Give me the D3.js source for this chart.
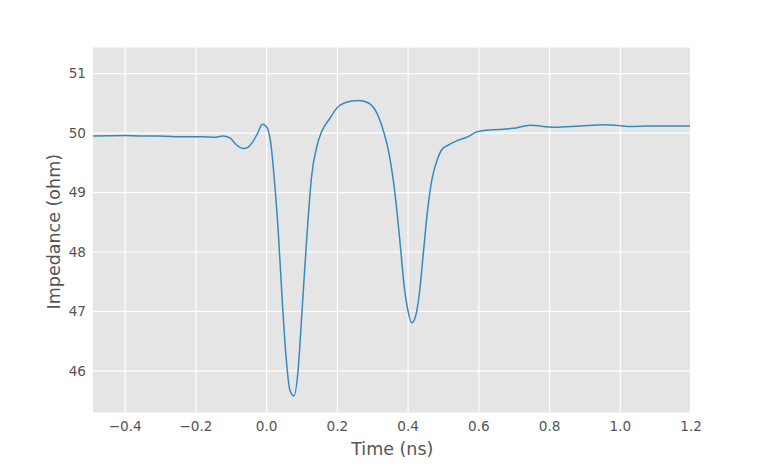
<!DOCTYPE html>
<html>
<head>
<meta charset="utf-8">
<script src="https://cdn.jsdelivr.net/npm/d3@7"></script>
<style>
  html, body { margin: 0; padding: 0; background: #fff; }
  svg { display: block; }
  text { font-family: "DejaVu Sans", sans-serif; }
</style>
</head>
<body>
<svg id="chart" width="768" height="470"></svg>
<script>
const time = [-0.491, -0.40, -0.35, -0.31, -0.26, -0.22, -0.18, -0.15, -0.123, -0.104, -0.085, -0.066, -0.053, -0.042, -0.027, -0.012, -0.002,
  0.011, 0.021, 0.033, 0.044, 0.054, 0.066, 0.077, 0.089, 0.099, 0.113, 0.127, 0.143, 0.156, 0.179, 0.198, 0.221, 0.259, 0.287,
  0.316, 0.332, 0.346, 0.358, 0.368, 0.379, 0.388, 0.399, 0.410, 0.421, 0.432, 0.443, 0.454, 0.467, 0.479, 0.495, 0.514, 0.537,
  0.566, 0.594, 0.622, 0.655, 0.697, 0.745, 0.811, 0.886, 0.952, 0.990, 1.032, 1.075, 1.197];
const impedance = [49.95, 49.96, 49.95, 49.95, 49.94, 49.94, 49.94, 49.93, 49.95, 49.92, 49.80, 49.74, 49.76, 49.83, 49.98, 50.15, 50.12,
  49.86, 49.27, 48.32, 47.19, 46.30, 45.67, 45.58, 46.02, 46.91, 48.20, 49.27, 49.80, 50.03, 50.25, 50.42, 50.51, 50.55, 50.51,
  50.28, 50.00, 49.66, 49.21, 48.71, 48.04, 47.47, 47.03, 46.81, 46.92, 47.31, 47.98, 48.65, 49.21, 49.49, 49.72, 49.80, 49.87,
  49.93, 50.02, 50.05, 50.06, 50.08, 50.13, 50.10, 50.12, 50.14, 50.13, 50.11, 50.12, 50.12];
const xTicks = [-0.4, -0.2, 0.0, 0.2, 0.4, 0.6, 0.8, 1.0, 1.2];
const yTicks = [46, 47, 48, 49, 50, 51];
const xLabel = "Time (ns)";
const yLabel = "Impedance (ohm)";

const svg = d3.select("#chart");
const m = { left: 93, right: 690, top: 47.5, bottom: 412.5 };
const x = d3.scaleLinear().domain([-0.491, 1.197]).range([m.left, m.right]);
const y = d3.scaleLinear().domain([45.30, 51.44]).range([m.bottom, m.top]);

svg.append("rect").attr("x", m.left).attr("y", m.top)
  .attr("width", m.right - m.left).attr("height", m.bottom - m.top).attr("fill", "#E5E5E5");

const fmt = d => d.toFixed(1).replace("-", "\u2212");

svg.append("g").selectAll("line").data(xTicks.filter(t => x(t) < m.right - 2)).join("line")
  .attr("x1", d => x(d)).attr("x2", d => x(d)).attr("y1", m.top).attr("y2", m.bottom)
  .attr("stroke", "#fff").attr("stroke-width", 1.2);
svg.append("g").selectAll("line").data(yTicks).join("line")
  .attr("y1", d => y(d)).attr("y2", d => y(d)).attr("x1", m.left).attr("x2", m.right)
  .attr("stroke", "#fff").attr("stroke-width", 1.2);

svg.append("g").selectAll("text").data(xTicks).join("text")
  .attr("x", d => x(d)).attr("y", 431).attr("text-anchor", "middle")
  .attr("font-size", "13.6px").attr("fill", "#555").text(fmt);
svg.append("g").selectAll("text").data(yTicks).join("text")
  .attr("x", 86).attr("y", d => y(d)).attr("dy", "0.35em").attr("text-anchor", "end")
  .attr("font-size", "13.6px").attr("fill", "#555").text(d => d);

const pts = time.map((t, i) => [t, impedance[i]]);
svg.append("path").datum(pts)
  .attr("fill", "none").attr("stroke", "#348ABD").attr("stroke-width", 1.5)
  .attr("d", d3.line().x(d => x(d[0])).y(d => y(d[1])).curve(d3.curveMonotoneX));

svg.append("text").attr("x", 392.3).attr("y", 455).attr("text-anchor", "middle")
  .attr("font-size", "17.5px").attr("fill", "#555").text(xLabel);
svg.append("text").attr("transform", `translate(59.5,231.7) rotate(-90)`)
  .attr("text-anchor", "middle").attr("font-size", "17.5px").attr("fill", "#555").text(yLabel);
</script>
</body>
</html>
